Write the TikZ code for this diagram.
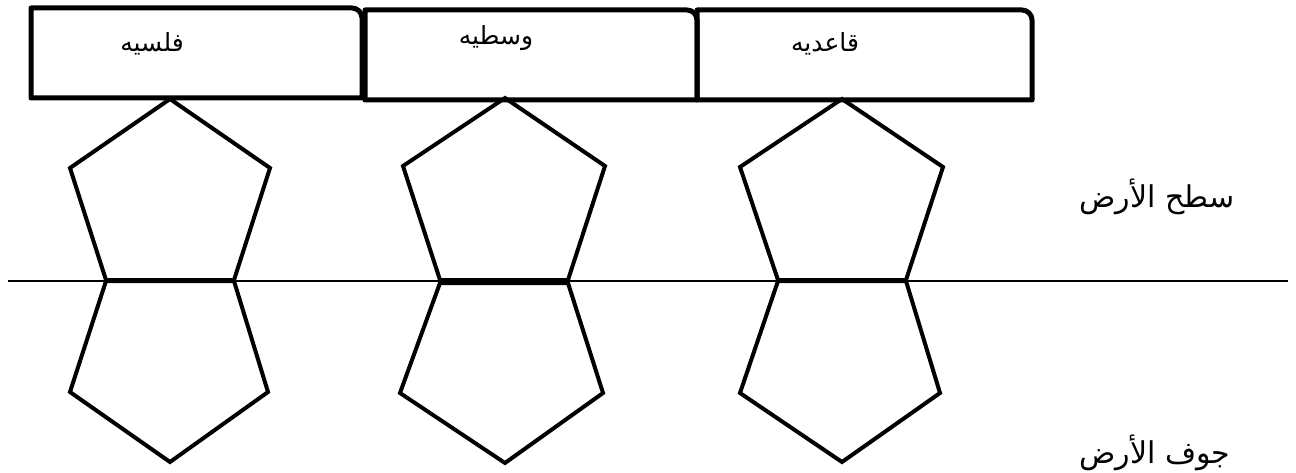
\documentclass[tikz,border=0pt]{standalone}
\usepackage{fontspec}
\newfontfamily\arabicfont[Script=Arabic]{DejaVu Sans}
\TeXXeTstate=1
\begin{document}
\begin{tikzpicture}[x=1pt,y=-1pt,
  boxline/.style={line width=5pt,line join=round},
  pent/.style={line width=4pt,line join=miter},
  ground/.style={line width=1.3pt},
  lbl/.style={font=\arabicfont\fontsize{25}{29}\selectfont,inner sep=0pt},
  side/.style={font=\arabicfont\fontsize{30}{34}\selectfont,inner sep=0pt}]
\useasboundingbox (0,0) rectangle (1296,473);
% boxes
\draw[boxline] (31,98) -- (31,8) -- (352,8) arc[start angle=-90,end angle=0,radius=10] -- (362,98) -- cycle;
\draw[boxline] (365,100) -- (365,10) -- (687,10) arc[start angle=-90,end angle=0,radius=10] -- (697,100) -- cycle;
\draw[boxline] (697,100) -- (697,10) -- (1022,10) arc[start angle=-90,end angle=0,radius=10] -- (1032,100) -- cycle;
\node[lbl] (t1) at (152,44) {\beginR فلسيه\endR};
\node[lbl] (t2) at (496,38) {\beginR وسطيه\endR};
\node[lbl] (t3) at (825,44) {\beginR قاعديه\endR};
% ground line
\coordinate (gl) at (8,281);
\coordinate (gr) at (1288,281);
\draw[ground] (gl) -- (gr);
% pentagons 1
\draw[pent] (170,99) -- (270,168) -- (234,280) -- (106,280) -- (70,168) -- cycle;
\draw[pent] (106,281) -- (234,281) -- (268,392) -- (170,462) -- (70,392) -- cycle;
% pentagons 2
\draw[pent] (505,98) -- (605,166) -- (568,280) -- (440,280) -- (403,166) -- cycle;
\draw[pent] (440,283) -- (568,283) -- (603,393) -- (505,463) -- (400,393) -- cycle;
% pentagons 3
\draw[pent] (842,99) -- (943,167) -- (906,280) -- (778,280) -- (740,167) -- cycle;
\draw[pent] (778,281) -- (906,281) -- (940,393) -- (842,462) -- (740,393) -- cycle;
% side labels
\node[side] (s1) at (1157,197) {\beginR سطح الأرض\endR};
\node[side] (s2) at (1155,453) {\beginR جوف الأرض\endR};
\end{tikzpicture}
\end{document}
